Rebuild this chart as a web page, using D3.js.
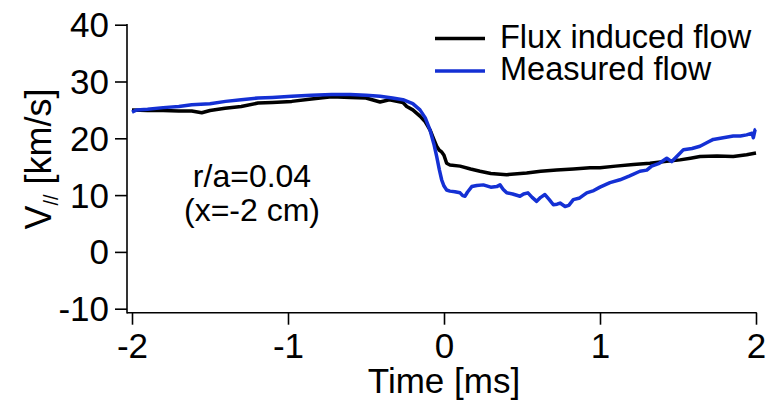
<!DOCTYPE html>
<html>
<head>
<meta charset="utf-8">
<script src="https://cdn.jsdelivr.net/npm/d3@7"></script>
<style>
  body { margin: 0; background: #fff; }
  svg { display: block; font-family: "Liberation Sans", Arial, Helvetica, sans-serif; }
</style>
</head>
<body>
<svg id="chart" width="773" height="410"></svg>
<script>
// series (time in ms, velocity in km/s)
const fluxTime = [-2.0, -1.9, -1.8, -1.7, -1.617, -1.553, -1.5, -1.404, -1.3, -1.192, -1.1, -0.976, -0.85, -0.72, -0.6, -0.5,
  -0.41, -0.35, -0.263, -0.239, -0.2, -0.154, -0.12, -0.09, -0.065, -0.047, -0.03, -0.015, 0.0, 0.017, 0.038, 0.103,
  0.17, 0.231, 0.3, 0.402, 0.53, 0.62, 0.722, 0.83, 0.936, 1.0, 1.1, 1.214, 1.32, 1.428, 1.513, 1.58, 1.641, 1.75,
  1.854, 1.94, 2.0];
const fluxFlow = [25.0, 24.9, 24.9, 24.8, 24.8, 24.5, 24.9, 25.3, 25.6, 26.2, 26.3, 26.5, 26.9, 27.3, 27.2, 27.1,
  26.4, 26.8, 26.3, 25.6, 25.0, 23.9, 22.9, 21.5, 19.8, 18.6, 17.9, 17.6, 17.0, 15.6, 15.3, 15.1,
  14.6, 14.2, 13.8, 13.6, 13.9, 14.2, 14.4, 14.6, 14.8, 14.8, 15.1, 15.4, 15.6, 15.95, 16.2, 16.5, 16.8, 16.9,
  16.8, 17.1, 17.4];

const measuredTime = [-2.0, -1.97, -1.9, -1.8, -1.7, -1.617, -1.5, -1.4, -1.3, -1.192, -1.1, -0.976, -0.85, -0.72, -0.6,
  -0.5, -0.41, -0.33, -0.263, -0.2, -0.154, -0.12, -0.09, -0.065, -0.047, -0.03, -0.015, 0.0, 0.017, 0.038, 0.07,
  0.103, 0.12, 0.135, 0.15, 0.178, 0.21, 0.252, 0.3, 0.338, 0.359, 0.38, 0.402, 0.44, 0.487, 0.51, 0.538, 0.565,
  0.594, 0.62, 0.647, 0.675, 0.701, 0.725, 0.744, 0.776, 0.8, 0.829, 0.87, 0.915, 0.96, 1.0, 1.064, 1.128, 1.19,
  1.256, 1.3, 1.331, 1.38, 1.428, 1.46, 1.5, 1.535, 1.59, 1.641, 1.69, 1.726, 1.79, 1.854, 1.9, 1.94, 1.975,
  1.983, 1.994, 2.0];
const measuredFlow = [24.6, 25.0, 25.1, 25.4, 25.6, 25.9, 26.1, 26.5, 26.8, 27.1, 27.2, 27.4, 27.6, 27.7, 27.7,
  27.6, 27.4, 27.1, 26.8, 26.1, 25.0, 23.6, 21.5, 19.0, 16.8, 14.5, 12.7, 11.6, 10.9, 10.7, 10.6,
  10.4, 9.9, 9.8, 10.5, 11.5, 11.7, 11.8, 11.4, 11.5, 11.8, 11.0, 10.4, 10.2, 9.8, 10.2, 10.4, 9.6,
  8.9, 9.6, 10.1, 9.2, 8.3, 8.4, 8.6, 8.0, 8.2, 9.2, 9.5, 10.4, 10.8, 11.4, 12.2, 12.7, 13.4,
  14.2, 14.4, 15.1, 15.6, 16.5, 15.9, 17.0, 18.0, 18.2, 18.6, 19.3, 19.8, 20.1, 20.4, 20.4, 20.6, 20.9,
  20.1, 21.5, 21.6];

const xTicks = [-2, -1, 0, 1, 2];
const yTicks = [-10, 0, 10, 20, 30, 40];
const seriesNames = ['Flux induced flow', 'Measured flow'];
const seriesColors = ['#000000', '#1430d4'];

const svg = d3.select('#chart');

const x = d3.scaleLinear().domain([-2, 2]).range([132, 756]);
const y = d3.scaleLinear().domain([-10, 40]).range([308.7, 24.7]);
const axisY = 312.7;   // x axis sits a little below -10
const axisX = 127;     // y axis sits a little left of -2
const fmt = d => String(d);  // plain hyphen minus, like the original

// Y axis
const gy = svg.append('g')
  .attr('transform', `translate(${axisX},0)`)
  .call(d3.axisLeft(y).tickValues(yTicks).tickSize(12).tickPadding(6).tickFormat(fmt));
gy.select('.domain').remove();
gy.selectAll('.tick line').attr('stroke', '#000').attr('stroke-width', 1.6);
gy.selectAll('.tick text')
  .attr('font-size', 35).attr('fill', '#000')
  .attr('font-family', null).attr('dy', '0.34em');
svg.append('line')
  .attr('x1', axisX).attr('x2', axisX)
  .attr('y1', y(40) - 0.8).attr('y2', axisY + 0.8)
  .attr('stroke', '#000').attr('stroke-width', 1.6);

// X axis
const gx = svg.append('g')
  .attr('transform', `translate(0,${axisY})`)
  .call(d3.axisBottom(x).tickValues(xTicks).tickSize(12).tickPadding(8).tickFormat(fmt));
gx.select('.domain').remove();
gx.selectAll('.tick line').attr('stroke', '#000').attr('stroke-width', 1.6);
gx.selectAll('.tick text')
  .attr('font-size', 35).attr('fill', '#000')
  .attr('font-family', null).attr('dy', '0.72em');
svg.append('line')
  .attr('x1', axisX).attr('x2', x(2) + 0.8)
  .attr('y1', axisY).attr('y2', axisY)
  .attr('stroke', '#000').attr('stroke-width', 1.6);

// axis titles
svg.append('text')
  .attr('x', (x(-2) + x(2)) / 2).attr('y', 393)
  .attr('text-anchor', 'middle').attr('font-size', 35)
  .text('Time [ms]');

const yTitle = svg.append('text')
  .attr('transform', 'translate(51,159) rotate(-90)')
  .attr('text-anchor', 'middle').attr('font-size', 36);
yTitle.append('tspan').text('V');
yTitle.append('tspan').attr('font-size', 20).attr('dy', 7).text('//');
yTitle.append('tspan').attr('dy', -7).text(' [km/s]');

// lines
const line = d3.line()
  .x(d => x(d[0]))
  .y(d => y(d[1]));

const fluxData = fluxTime.map((t, i) => [t, fluxFlow[i]]);
const measuredData = measuredTime.map((t, i) => [t, measuredFlow[i]]);

[fluxData, measuredData].forEach((data, i) => {
  svg.append('path')
    .datum(data)
    .attr('d', line)
    .attr('fill', 'none')
    .attr('stroke', seriesColors[i])
    .attr('stroke-width', 3.5)
    .attr('stroke-linejoin', 'round');
});

// annotation
const note = svg.append('text').attr('text-anchor', 'middle').attr('font-size', 32);
note.append('tspan').attr('x', 252).attr('y', 187).text('r/a=0.04');
note.append('tspan').attr('x', 252).attr('y', 221).text('(x=-2 cm)');

// legend
const legend = svg.append('g');
seriesNames.forEach((name, i) => {
  const ly = 38.5 + i * 32.5;
  legend.append('line')
    .attr('x1', 435).attr('x2', 485)
    .attr('y1', ly).attr('y2', ly)
    .attr('stroke', seriesColors[i]).attr('stroke-width', 3.5);
  legend.append('text')
    .attr('x', 500).attr('y', ly + 9)
    .attr('font-size', 32.5)
    .text(name);
});
</script>
</body>
</html>
